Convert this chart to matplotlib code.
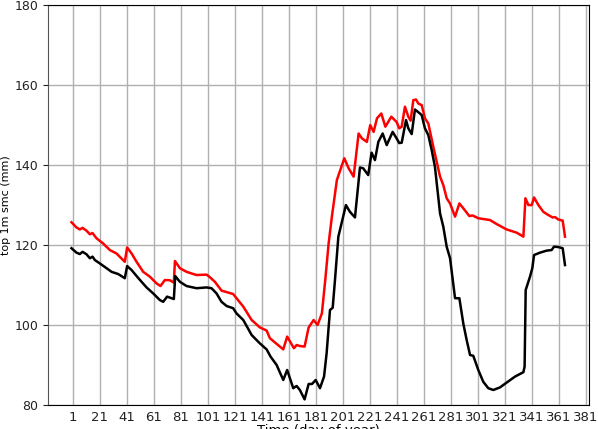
import matplotlib
matplotlib.use("Agg")
import matplotlib.pyplot as plt

# soil moisture, top 1 m (mm)
red_days = [0, 3.7, 6.2, 8.2, 11.1, 13.6, 15.6, 18.5, 23.4, 28.4, 33.3, 39.5, 41.2,
            44.5, 48.2, 53.1, 58, 63, 65.9, 69.1, 72.8, 75.8, 76.6, 80.3, 85.2,
            92.6, 100, 102, 106.2, 111.1, 119.7, 122.2, 127.2, 133.4, 139.5, 144.5,
            146.9, 156.8, 159.7, 164.7, 166.7, 169.1, 172.6, 175.6, 179.3, 182.2,
            185.4, 187.9, 190.4, 192.8, 196.5, 202, 205.2, 208.9, 212.6, 215,
            218.7, 221.2, 223.7, 226.2, 229.4, 232.4, 236.8, 240.7, 242.7, 244.5,
            246.9, 249.4, 251.1, 253.1, 255.1, 256.8, 259.3, 261.7, 264.2, 267.9,
            272.9, 275.3, 277.8, 280.3, 284, 287.2, 290.1, 294.6, 297, 301.2,
            309.9, 314.8, 322.2, 329.6, 334.6, 336.1, 338.3, 340.8, 342.5, 345.7,
            349.4, 353.1, 356.3, 358, 360.4, 363.7, 365.4]
red_vals = [125.7, 124.4, 123.9, 124.3, 123.6, 122.7, 123, 121.7, 120.4, 118.75,
            117.9, 115.8, 119.4, 117.9, 115.8, 113.3, 112.1, 110.4, 109.75, 111.25,
            111.2, 110.6, 116, 114.2, 113.3, 112.5, 112.6, 112.1, 110.8, 108.6,
            107.75, 106.7, 104.6, 101.25, 99.4, 98.6, 96.7, 93.9, 97.1, 94.2, 95,
            94.75, 94.6, 99.4, 101.25, 100, 102.9, 111.25, 120.4, 127.1, 136.25,
            141.7, 139.2, 137.1, 147.9, 146.7, 145.8, 150, 148.3, 151.7, 152.9,
            149.6, 152.1, 150.8, 149.2, 149.6, 154.6, 152.1, 151.1, 156.25, 156.4,
            155.4, 155, 151.7, 150.4, 144.6, 137.1, 135, 131.7, 130.4, 127.1,
            130.4, 129.2, 127.25, 127.4, 126.7, 126.25, 125.25, 123.9, 123.1,
            122.1, 131.7, 130, 130, 131.9, 130, 128.3, 127.5, 126.9, 127, 126.4,
            126.1, 122.1]

black_days = [0, 3.7, 6.2, 8.2, 11.1, 13.6, 15.6, 17.3, 21, 26, 29.7, 34.6, 39.5,
              41.2, 44.5, 48.2, 51.9, 55.6, 60.5, 65.4, 67.9, 70.8, 74.1, 75.8,
              76.8, 80.3, 85.2, 92.6, 100, 103.7, 107.4, 111.1, 114.9, 119.7,
              122.2, 127.2, 133.4, 139.5, 144.5, 147.4, 151.9, 156.8, 159.7,
              164.2, 166.7, 169.1, 172.6, 175.6, 178.1, 180.8, 184, 187, 188.9,
              191.4, 193.4, 195.1, 197.6, 203.2, 206.2, 209.9, 213.6, 216, 219.7,
              222.2, 224.7, 227.2, 230.4, 233.4, 237.8, 240.7, 242.7, 244.5,
              247.7, 249.4, 251.9, 254.3, 258, 259.3, 261.7, 264.2, 266.7, 269.1,
              272.9, 275.3, 277.8, 280.3, 284, 287.2, 290.1, 292.6, 295.1, 297.5,
              301.2, 304.9, 308.6, 312.3, 317.3, 322.2, 328.4, 334.6, 335.5,
              336.3, 339.5, 341.2, 342.5, 346.9, 351.8, 355.5, 357.3, 360.4,
              363.7, 365.4]
black_vals = [119.2, 118.1, 117.75, 118.3, 117.7, 116.7, 117.1, 116.25, 115.4,
              114.2, 113.3, 112.75, 111.7, 114.75, 113.75, 112.25, 110.8, 109.4,
              107.9, 106.25, 105.8, 107.1, 106.7, 106.5, 112.25, 110.8, 109.75,
              109.2, 109.4, 109.2, 107.9, 105.8, 104.75, 104.2, 102.9, 101.25,
              97.5, 95.4, 93.9, 92.1, 90, 86.25, 88.75, 84.2, 84.75, 83.75, 81.4,
              85.25, 85.25, 86.25, 84.2, 87.1, 92.9, 103.75, 104.3, 111.25, 122.1,
              130, 128.3, 126.9, 139.4, 139.2, 137.5, 143.1, 141.25, 145.8, 147.9,
              145, 148.3, 146.7, 145.5, 145.6, 151.25, 149.2, 147.75, 153.9, 152.9,
              152.5, 149.2, 147.5, 143.75, 139.6, 127.9, 124.6, 119.6, 116.7,
              106.7, 106.7, 100.4, 96.25, 92.5, 92.3, 88.75, 85.8, 84.2, 83.75,
              84.4, 85.6, 87.1, 88.2, 89.6, 108.75, 112.1, 114.2, 117.5, 118.1,
              118.6, 118.75, 119.6, 119.5, 119.2, 115]

xticks = list(range(1, 382, 20))
yticks = [80, 100, 120, 140, 160, 180]

fig = plt.figure(figsize=(5.98, 4.29), dpi=100)
ax = fig.add_axes([0.080, 0.056, 0.905, 0.932])

ax.plot(red_days, red_vals, color="red", lw=1.8, zorder=3)
ax.plot(black_days, black_vals, color="black", lw=1.8, zorder=4)

ax.set_xlim(-17.5, 383.2)
ax.set_ylim(80, 180)
ax.set_xticks(xticks)
ax.set_yticks(yticks)
ax.grid(True, color="#b0b0b0", lw=1.0, zorder=0)
ax.tick_params(axis="x", length=0, labelsize=9.5, pad=4, colors="#222222")
ax.tick_params(axis="y", length=3.5, labelsize=9, colors="#222222")
ax.tick_params(axis="x", colors="#222222")
ax.spines["left"].set_color("#555555")
ax.set_xlabel("Time (day of year)", fontsize=9.5, labelpad=0)
ax.set_ylabel("top 1m smc (mm)", fontsize=8, labelpad=2)

fig.savefig("out.png", dpi=100)
